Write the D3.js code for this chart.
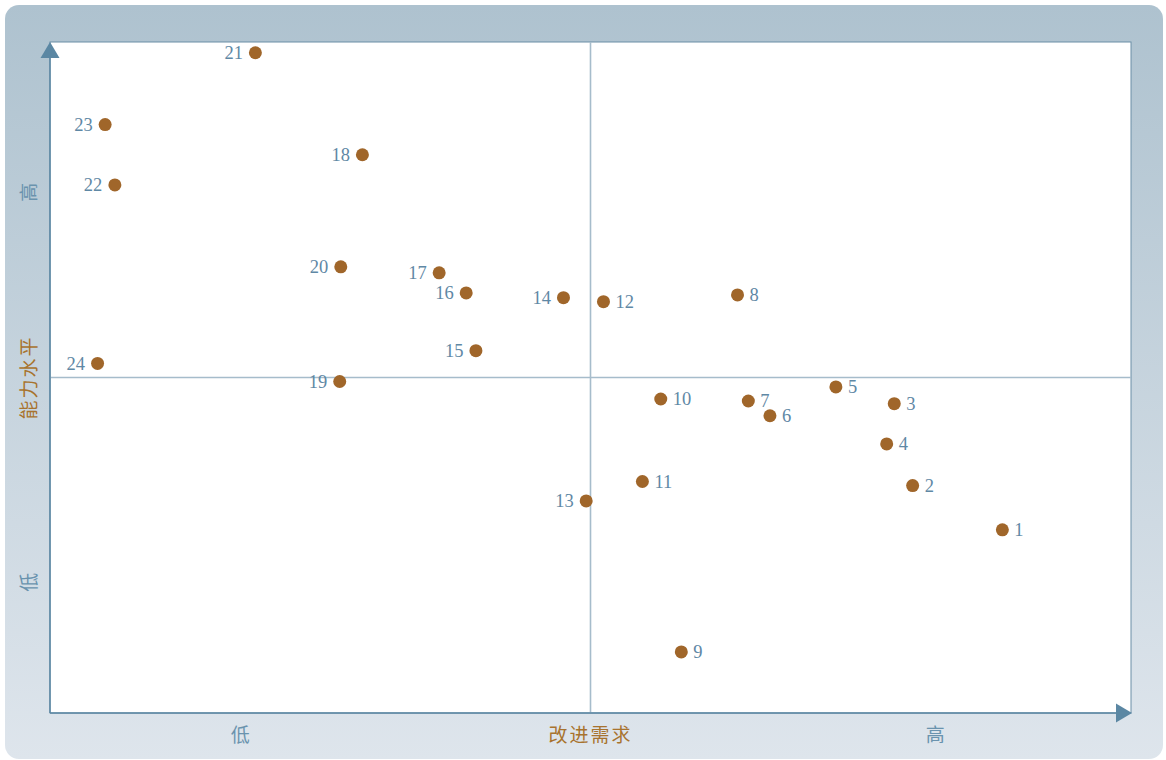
<!DOCTYPE html>
<html>
<head>
<meta charset="utf-8">
<script src="https://cdn.jsdelivr.net/npm/d3@7"></script>
<style>
  html, body { margin: 0; padding: 0; background: #ffffff; }
  svg { display: block; }
</style>
</head>
<body>
<svg id="chart" width="1166" height="760"></svg>
<script>
// Item numbers with their improvement need (x) and capability level (y), 0–100 scale
const ids = [1, 2, 3, 4, 5, 6, 7, 8, 9, 10, 11, 12, 13, 14, 15, 16, 17, 18, 19, 20, 21, 22, 23, 24];
const need = [88.1, 79.8, 78.1, 77.4, 72.7, 66.6, 64.6, 63.6, 58.4, 56.5, 54.8, 51.2, 49.6, 47.5, 39.4, 38.5, 36.0, 28.9, 26.8, 26.9, 19.0, 6.0, 5.1, 4.4];
const level = [27.3, 33.9, 46.1, 40.1, 48.6, 44.3, 46.5, 62.3, 9.1, 46.8, 34.5, 61.3, 31.6, 61.9, 54.0, 62.6, 65.6, 83.2, 49.4, 66.5, 98.4, 78.7, 87.7, 52.1];

const xTickLabels = ["低", "改进需求", "高"];
const xTickValues = [17.6, 50, 81.9];
const yTickLabels = ["低", "能力水平", "高"];
const yTickValues = [19.5, 50, 77.6];

const svg = d3.select("#chart");
const plot = { left: 50, right: 1131, top: 42, bottom: 713 };

const x = d3.scaleLinear().domain([0, 100]).range([plot.left, plot.right]);
const y = d3.scaleLinear().domain([0, 100]).range([plot.bottom, plot.top]);

// Panel background
const defs = svg.append("defs");
const grad = defs.append("linearGradient").attr("id", "panelGrad")
  .attr("x1", 0).attr("y1", 0).attr("x2", 0).attr("y2", 1);
grad.append("stop").attr("offset", "0%").attr("stop-color", "#aec2cf");
grad.append("stop").attr("offset", "100%").attr("stop-color", "#dee5ec");

svg.append("rect")
  .attr("x", 5).attr("y", 5)
  .attr("width", 1158).attr("height", 754)
  .attr("rx", 14).attr("ry", 14)
  .attr("fill", "url(#panelGrad)");

// Plot area
svg.append("rect")
  .attr("x", plot.left).attr("y", plot.top)
  .attr("width", plot.right - plot.left).attr("height", plot.bottom - plot.top)
  .attr("fill", "#ffffff")
  .attr("stroke", "#6a8ea6").attr("stroke-width", 1);

// Quadrant divider lines
svg.append("line")
  .attr("x1", x(50)).attr("x2", x(50))
  .attr("y1", plot.top).attr("y2", plot.bottom)
  .attr("stroke", "#a6bccb").attr("stroke-width", 1.6);
svg.append("line")
  .attr("x1", plot.left).attr("x2", plot.right)
  .attr("y1", y(50)).attr("y2", y(50))
  .attr("stroke", "#a6bccb").attr("stroke-width", 1.6);

// Axis lines with arrowheads
const axisColor = "#5b87a3";
svg.append("line")
  .attr("x1", plot.left).attr("x2", plot.left)
  .attr("y1", plot.bottom).attr("y2", plot.top + 14)
  .attr("stroke", axisColor).attr("stroke-width", 1.5);
svg.append("line")
  .attr("x1", plot.left).attr("x2", plot.right - 14)
  .attr("y1", plot.bottom).attr("y2", plot.bottom)
  .attr("stroke", axisColor).attr("stroke-width", 1.5);
svg.append("path")
  .attr("d", `M${plot.left},${plot.top} L${plot.left - 9.5},${plot.top + 16} L${plot.left + 9.5},${plot.top + 16} Z`)
  .attr("fill", axisColor);
svg.append("path")
  .attr("d", `M${plot.right + 1},${plot.bottom} L${plot.right - 15},${plot.bottom - 9.5} L${plot.right - 15},${plot.bottom + 9.5} Z`)
  .attr("fill", axisColor);

// Axis category labels
const cjk = "'Noto Sans CJK SC', 'Noto Sans CJK TC', sans-serif";
svg.append("g").selectAll("text")
  .data(xTickLabels)
  .join("text")
  .attr("x", (d, i) => x(xTickValues[i]))
  .attr("y", 737)
  .attr("text-anchor", "middle")
  .attr("dominant-baseline", "middle")
  .attr("font-family", cjk)
  .attr("font-size", 19)
  .attr("letter-spacing", (d, i) => i === 1 ? 2 : 0)
  .attr("fill", (d, i) => i === 1 ? "#a8732e" : "#6a93ae")
  .text(d => d);

svg.append("g").selectAll("text")
  .data(yTickLabels)
  .join("text")
  .attr("transform", (d, i) => `translate(31,${y(yTickValues[i])}) rotate(-90)`)
  .attr("text-anchor", "middle")
  .attr("dominant-baseline", "middle")
  .attr("font-family", cjk)
  .attr("font-size", 19)
  .attr("letter-spacing", (d, i) => i === 1 ? 2 : 0)
  .attr("fill", (d, i) => i === 1 ? "#a8732e" : "#6a93ae")
  .text(d => d);

// Points
const pts = ids.map((id, i) => ({ id, nx: need[i], ly: level[i] }));

svg.append("g").selectAll("circle")
  .data(pts)
  .join("circle")
  .attr("cx", d => x(d.nx))
  .attr("cy", d => y(d.ly))
  .attr("r", 6.5)
  .attr("fill", "#a0662a");

svg.append("g").selectAll("text")
  .data(pts)
  .join("text")
  .attr("x", d => d.nx < 50 ? x(d.nx) - 12.5 : x(d.nx) + 12)
  .attr("y", d => y(d.ly) + 2)
  .attr("text-anchor", d => d.nx < 50 ? "end" : "start")
  .attr("dominant-baseline", "middle")
  .attr("font-family", "'Liberation Serif', 'DejaVu Serif', serif")
  .attr("font-size", 18.5)
  .attr("fill", "#5f88a5")
  .text(d => d.id);
</script>
</body>
</html>
